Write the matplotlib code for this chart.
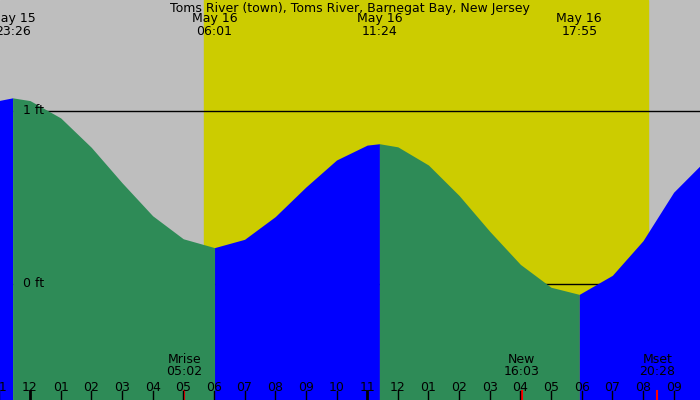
import numpy as np
import matplotlib.pyplot as plt

# hours relative to May 16 00:00, tide height in ft
hours = [-1.0, -0.57, 0, 1, 2, 3, 4, 5, 6.02, 7, 8, 9, 10, 11, 11.4,
         12, 13, 14, 15, 16, 17, 17.92, 19, 20, 21, 21.9]
height = [1.06, 1.075, 1.059, 0.959, 0.789, 0.585, 0.394, 0.261, 0.21, 0.258, 0.389,
          0.56, 0.716, 0.802, 0.81, 0.792, 0.687, 0.511, 0.304, 0.113, -0.019,
          -0.06, 0.05, 0.25, 0.53, 0.69]
extreme_hours = [-0.57, 6.02, 11.4, 17.92]
extreme_labels = ["May 15\n23:26", "May 16\n06:01", "May 16\n11:24", "May 16\n17:55"]
day_start, day_end = 5.68, 20.16
moon_hours = [5.03, 16.05, 20.47]
moon_labels = ["Mrise\n05:02", "New\n16:03", "Mset\n20:28"]

GREEN = "#2e8b57"
BLUE = "#0000ff"
YELLOW = "#cccc00"
GREY = "#bebebe"

x0, x1 = -0.98, 21.86
y0, y1 = -0.67, 1.64

fig = plt.figure(figsize=(7, 4), dpi=100)
ax = fig.add_axes([0, 0, 1, 1])
ax.set_xlim(x0, x1)
ax.set_ylim(y0, y1)
ax.axis("off")
ax.axvspan(x0, x1, color=GREY, zorder=0)
ax.axvspan(day_start, day_end, color=YELLOW, zorder=0)

ax.axhline(1, color="black", lw=1, zorder=1)
ax.axhline(0, color="black", lw=1, zorder=1)

t = np.array(hours)
h = np.array(height)
bounds = [-99] + extreme_hours + [99]
for i in range(len(bounds) - 1):
    a, b = bounds[i], bounds[i + 1]
    m = (t >= a - 1e-9) & (t <= b + 1e-9)
    rising = h[m][-1] > h[m][0]
    ax.fill_between(t[m], y0, h[m], color=BLUE if rising else GREEN, lw=0, zorder=2)

ax.text(0.12, 1, "1 ft", fontsize=9, va="center", ha="center", zorder=3)
ax.text(0.12, 0, "0 ft", fontsize=9, va="center", ha="center", zorder=3)

ax.text((x0 + x1) / 2, y1 - 0.01, "Toms River (town), Toms River, Barnegat Bay, New Jersey",
        fontsize=9, ha="center", va="top", zorder=4)
for xh, lab in zip(extreme_hours, extreme_labels):
    ax.text(xh, y1 - 0.07, lab, fontsize=9, ha="center", va="top", linespacing=0.95, zorder=4)

for xh, lab in zip(moon_hours, moon_labels):
    ax.text(xh, y0 + 0.125, lab, fontsize=9, ha="center", va="bottom", linespacing=0.95, zorder=4)
    ax.plot([xh, xh], [y0, y0 + 0.05], color="red", lw=1.5, zorder=4)

for hr in range(-1, 22):
    lab = "%02d" % (hr % 12 if hr % 12 else 12)
    ax.text(hr, y0 + 0.075, lab, fontsize=9, ha="center", va="center", zorder=4)
    ax.plot([hr, hr], [y0, y0 + 0.05], color="black", lw=2 if hr in (0, 11) else 1, zorder=4)

fig.savefig("out.png", dpi=100)
